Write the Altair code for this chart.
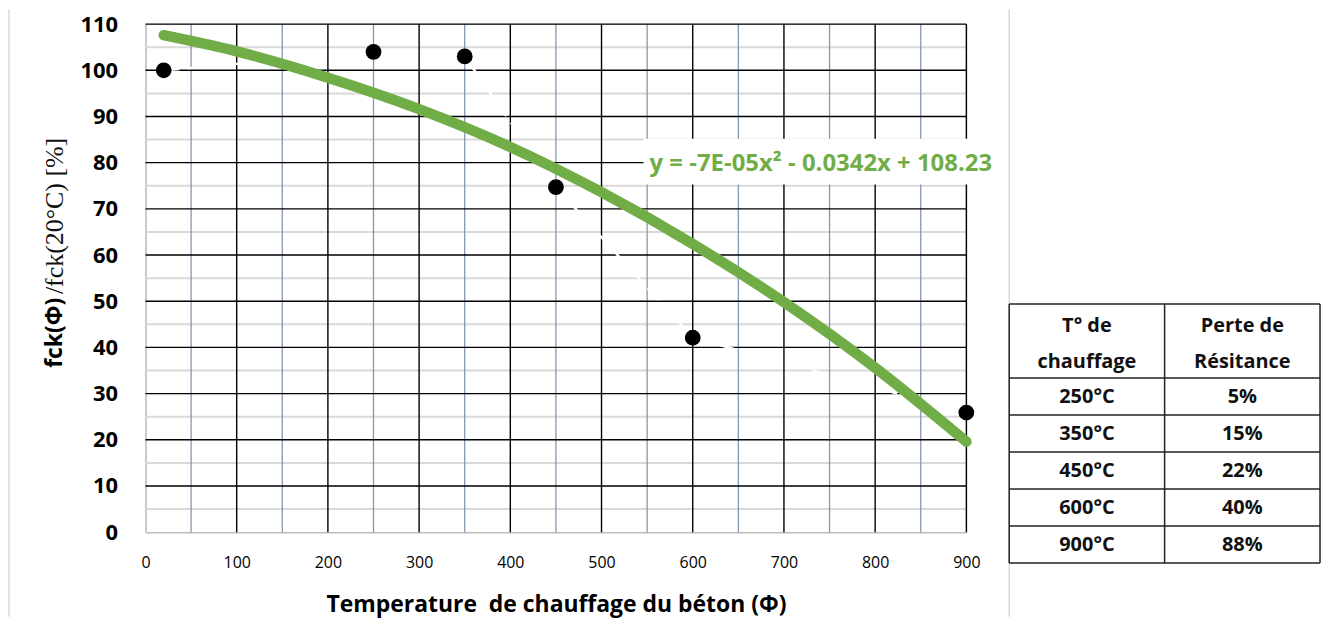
import altair as alt
import pandas as pd

# ---- data ----
temps = [20, 250, 350, 450, 600, 900]
ratios = [100.0, 104.0, 103.0, 74.7, 42.1, 25.9]

trend_x = [20, 100, 200, 300, 400, 500, 600, 700, 800, 900]
trend_y = [107.6, 104.1, 98.4, 91.6, 83.4, 73.6, 62.4, 49.8, 35.6, 19.6]

x_ticks = [0, 100, 200, 300, 400, 500, 600, 700, 800, 900]
y_ticks = [0, 10, 20, 30, 40, 50, 60, 70, 80, 90, 100, 110]
x_major = [100, 200, 300, 400, 500, 600, 700, 800, 900]
y_major = [10, 20, 30, 40, 50, 60, 70, 80, 90, 100, 110]
x_minor = [50, 150, 250, 350, 450, 550, 650, 750, 850]
y_minor = [5, 15, 25, 35, 45, 55, 65, 75, 85, 95, 105]

header_line1 = ["T° de", "Perte de"]
header_line2 = ["chauffage", "Résitance"]
table_temps = ["250°C", "350°C", "450°C", "600°C", "900°C"]
table_losses = ["5%", "15%", "22%", "40%", "88%"]

eq_label = "y = -7E-05x² - 0.0342x + 108.23"
x_title = "Temperature\u00a0 de chauffage du béton (Φ)"
y_title_a = "fck(Φ)"
y_title_b = "/fck(20°C) [%]"

GREEN = "#70AD47"
FONT = "Open Sans"

# ---- main plot ----
XS = alt.Scale(domain=[0, 900], nice=False, zero=False)
YS = alt.Scale(domain=[0, 110], nice=False, zero=False)

xaxis = alt.Axis(values=x_ticks, grid=False, ticks=False, domainColor="#bfbfbf",
                 domainWidth=1.5, labelFont=FONT, labelFontSize=16, labelColor="#000",
                 labelPadding=22, labelFlush=False, labelOverlap=False,
                 title=x_title, titleFont=FONT, titleFontSize=23, titleFontWeight="bold",
                 titleColor="#000", titlePadding=24)
yaxis = alt.Axis(values=y_ticks, grid=False, ticks=False, domainColor="#bfbfbf",
                 domainWidth=1.5, labelFont=FONT, labelFontSize=22, labelFontWeight="bold",
                 labelColor="#000", labelPadding=28, labelOverlap=False, title=None)


def X(field):
    return alt.X(field, type="quantitative", scale=XS, axis=xaxis)


def Y(field):
    return alt.Y(field, type="quantitative", scale=YS, axis=yaxis)


pts = pd.DataFrame({"temp": temps, "ratio": ratios})
trend = pd.DataFrame({"temp": trend_x, "ratio": trend_y})

ymin_df = pd.DataFrame({"ratio": y_minor})
xmin_df = pd.DataFrame({"temp": x_minor})
ymaj_df = pd.DataFrame({"ratio": y_major})
xmaj_df = pd.DataFrame({"temp": x_major})

g_ymin = alt.Chart(ymin_df).mark_rule(color="#D9D9D9", strokeWidth=2).encode(y=Y("ratio"))
g_xmin = alt.Chart(xmin_df).mark_rule(color="#8497B0", strokeWidth=1.3).encode(x=X("temp"))
g_ymaj = alt.Chart(ymaj_df).mark_rule(color="#000000", strokeWidth=1.4).encode(y=Y("ratio"))
g_xmaj = alt.Chart(xmaj_df).mark_rule(color="#000000", strokeWidth=1.4).encode(x=X("temp"))

dash_line = alt.Chart(pts).mark_line(color="white", strokeWidth=2.5, strokeDash=[16, 8]).encode(
    x=X("temp"), y=Y("ratio"))
trend_line = alt.Chart(trend).mark_line(color=GREEN, strokeWidth=10.5, strokeCap="round",
                                        interpolate="monotone").encode(x=X("temp"), y=Y("ratio"))
points = alt.Chart(pts).mark_circle(color="black", opacity=1, size=250).encode(
    x=X("temp"), y=Y("ratio"))

one = pd.DataFrame({"t": [eq_label]})
eq_box = alt.Chart(one).mark_rect(color="white").encode(
    x=alt.value(500), x2=alt.value(864), y=alt.value(115), y2=alt.value(161))
eq_text = alt.Chart(one).mark_text(align="left", baseline="middle", font=FONT, fontSize=24,
                                   fontWeight="bold", color=GREEN).encode(
    x=alt.value(506), y=alt.value(140), text="t:N")

ya = alt.Chart(pd.DataFrame({"t": [y_title_a]})).mark_text(
    angle=270, align="left", baseline="middle", font=FONT, fontSize=23, fontWeight="bold",
    color="#000").encode(x=alt.value(-91), y=alt.value(345), text="t:N")
yb = alt.Chart(pd.DataFrame({"t": [y_title_b]})).mark_text(
    angle=270, align="left", baseline="middle", font="Liberation Serif", fontSize=26,
    color="#111").encode(x=alt.value(-91), y=alt.value(271), text="t:N")

border = alt.Chart(pd.DataFrame({"b": [0]})).mark_rule(color="#d9d9d9", strokeWidth=1.5).encode(
    x=alt.value(-137), y=alt.value(-15), y2=alt.value(595))
border2 = alt.Chart(pd.DataFrame({"b": [0]})).mark_rule(color="#d9d9d9", strokeWidth=1.5).encode(
    x=alt.value(867), y=alt.value(-15), y2=alt.value(595))

main = alt.layer(g_ymin, g_xmin, g_ymaj, g_xmaj, dash_line, trend_line, points,
                 eq_box, eq_text, ya, yb, border, border2)

# ---- table ----
TX = alt.Scale(domain=[0, 2], range=[867, 1179])
TY = alt.Scale(domain=[0, 7], range=[281, 541])

nrows = len(table_temps)
h_pos = [0, 2] + [2 + i + 1 for i in range(nrows)]
h_df = pd.DataFrame({"y": h_pos, "x": [0] * len(h_pos), "x2": [2] * len(h_pos)})
v_df = pd.DataFrame({"x": [0, 1, 2], "y": [0, 0, 0], "y2": [2 + nrows] * 3})

t_h = alt.Chart(h_df).mark_rule(color="#222", strokeWidth=1.5).encode(
    x=alt.X("x:Q", scale=TX, axis=None), x2="x2:Q", y=alt.Y("y:Q", scale=TY, axis=None))
t_v = alt.Chart(v_df).mark_rule(color="#222", strokeWidth=1.5).encode(
    x=alt.X("x:Q", scale=TX, axis=None), y=alt.Y("y:Q", scale=TY, axis=None), y2="y2:Q")

cells = []
for c in range(2):
    cells.append({"cx": c + 0.5, "cy": 0.6, "label": header_line1[c]})
    cells.append({"cx": c + 0.5, "cy": 1.58, "label": header_line2[c]})
for i, (tt, ll) in enumerate(zip(table_temps, table_losses)):
    cells.append({"cx": 0.5, "cy": 2.5 + i, "label": tt})
    cells.append({"cx": 1.5, "cy": 2.5 + i, "label": ll})
cell_df = pd.DataFrame(cells)

t_txt = alt.Chart(cell_df).mark_text(font=FONT, fontSize=20, fontWeight="bold", color="#111",
                                     align="center", baseline="middle").encode(
    x=alt.X("cx:Q", scale=TX, axis=None), y=alt.Y("cy:Q", scale=TY, axis=None), text="label:N")

table = alt.layer(t_h, t_v, t_txt)

chart = alt.layer(main, table).resolve_scale(x="independent", y="independent").properties(
    width=824, height=510,
    autosize=alt.AutoSizeParams(type="none"),
    padding={"left": 138, "top": 15, "right": 360, "bottom": 85},
).configure_view(stroke=None).configure(background="white")

chart.save("out.html", embed_options={"renderer": "svg", "actions": False})
